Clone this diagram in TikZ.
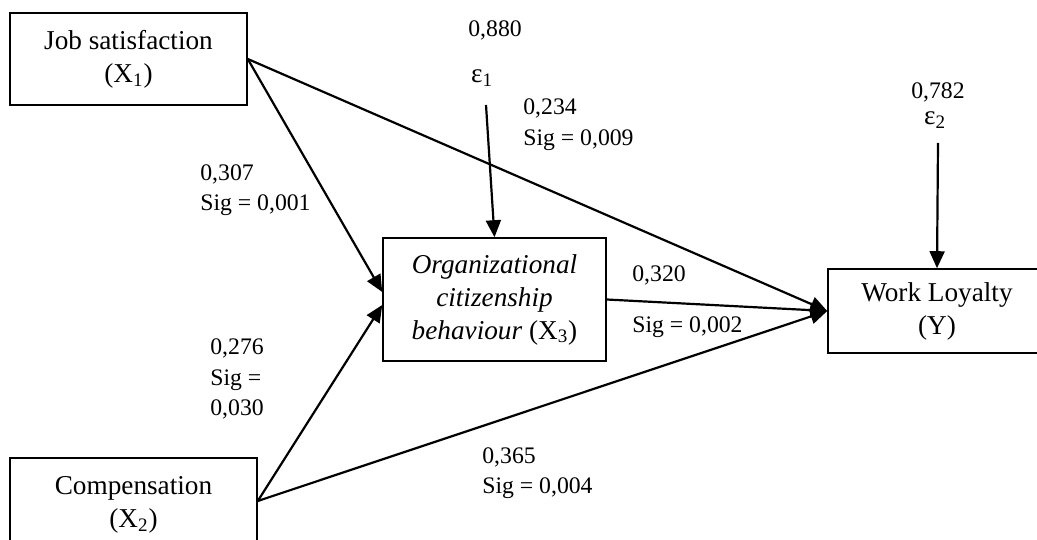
\documentclass[tikz,border=0pt]{standalone}
\usepackage{fontspec}
\setmainfont{Liberation Serif}
\usetikzlibrary{arrows.meta}
\newcommand{\boxfont}{\fontsize{15.5}{18.8}\selectfont}
\newcommand{\labfont}{\fontsize{13.5}{17.4}\selectfont}
\tikzset{box/.style={draw,line width=0.9pt,align=center,inner sep=0pt,font=\boxfont}}
\tikzset{path/.style={line width=1.25pt,-{Triangle[length=0.34cm,width=0.3cm]}}}
\tikzset{lab/.style={anchor=west,align=left,inner sep=0pt,font=\labfont}}

\begin{document}
\begin{tikzpicture}[x=0.02cm,y=-0.02cm]
		\useasboundingbox (0,0) rectangle (1037,540);
		\clip (0,0) rectangle (1037,540);

		% variables
		\node [box,minimum width=4.74cm,minimum height=1.84cm] (js) at (128.5,59) {Job satisfaction\\(X\textsubscript{1})};
		\node [box,minimum width=4.94cm,minimum height=1.88cm] (comp) at (133.5,505) {Compensation\\(X\textsubscript{2})};
		\node [box,minimum width=4.46cm,minimum height=2.46cm] (ocb) at (494.5,299.5) {\textit{Organizational}\\\textit{citizenship}\\\textit{behaviour} (X\textsubscript{3})};
		\node [box,minimum width=4.36cm,minimum height=1.68cm] (wl) at (937,311) {Work Loyalty\\(Y)};

		% error terms
		\node [lab] (r1) at (468,30) {0,880};
		\node [font=\boxfont,inner sep=0pt] (e1) at (482,78) {ε\textsubscript{1}};
		\coordinate (e1tail) at (486,105);
		\node [font=\labfont,inner sep=0pt] (r2) at (938,92) {0,782};
		\node [font=\boxfont,inner sep=0pt] (e2) at (935,120) {ε\textsubscript{2}};
		\coordinate (e2tail) at (938,143);

		% paths
		\draw [path] (e1tail) -- (ocb.north);
		\draw [path] (e2tail) -- (wl.north);
		\draw [path] (js.east) -- ([yshift=0.15cm]ocb.west);
		\draw [path] ([yshift=0.08cm]comp.east) -- ([yshift=-0.11cm]ocb.west);
		\draw [path] (js.east) -- (wl.west);
		\draw [path] (ocb.east) -- (wl.west);
		\draw [path] ([yshift=0.08cm]comp.east) -- (wl.west);

		% coefficients
		\node [lab] (c1) at (523,124.5) {0,234\\Sig = 0,009};
		\node [lab] (c2) at (200,190) {0,307\\Sig = 0,001};
		\node [lab] (c3) at (210,379) {0,276\\Sig =\\0,030};
		\node [lab] (c4) at (632,275) {0,320};
		\node [lab] (c4s) at (632,327) {Sig = 0,002};
		\node [lab] (c5) at (482,473) {0,365\\Sig = 0,004};
	\end{tikzpicture}
\end{document}
